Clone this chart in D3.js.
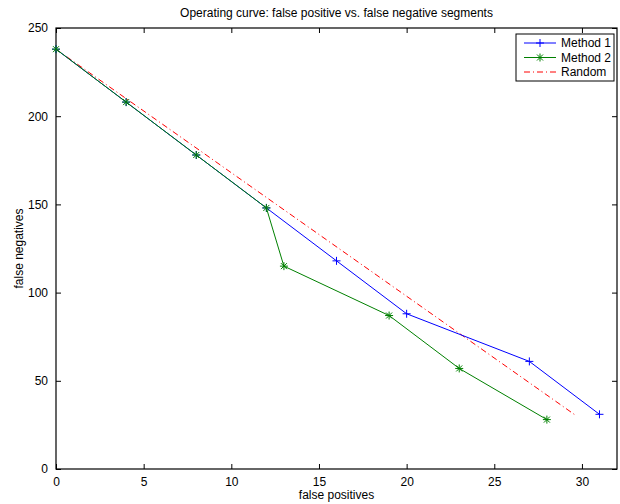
<!DOCTYPE html>
<html>
<head>
<meta charset="utf-8">
<script src="https://cdn.jsdelivr.net/npm/d3@7"></script>
<style>
  body { margin: 0; background: #fff; }
  svg text { font-family: 'Liberation Sans', Arial, sans-serif; }
</style>
</head>
<body>
<div id="chart"></div>
<script>
// data
var method1X = [0, 4, 8, 12, 16, 20, 27, 31]
var method1Y = [238, 208, 178, 148, 118, 88, 61, 31]
var method2X = [0, 4, 8, 12, 13, 19, 23, 28]
var method2Y = [238, 208, 178, 148, 115, 87, 57, 28]
var randomX = [0, 29.7]
var randomY = [238, 30]
var xTicks = [0, 5, 10, 15, 20, 25, 30]
var yTicks = [0, 50, 100, 150, 200, 250]

var margin = { top: 28, left: 56, right: 3, bottom: 35 }
var width = 620 - margin.left - margin.right
var height = 504 - margin.top - margin.bottom

var svg = d3.select('#chart')
  .append('svg')
  .attr('width', 620)
  .attr('height', 504)

var g = svg.append('g')
  .attr('transform', 'translate(' + margin.left + ',' + margin.top + ')')

var x = d3.scaleLinear().domain([0, 32]).range([0, width])
var y = d3.scaleLinear().domain([0, 250]).range([height, 0])

// ticks inside on all four sides, labels only bottom/left
function tickStyle(sel) {
  sel.select('.domain').remove()
  sel.selectAll('line').attr('stroke', '#000')
  sel.selectAll('text').attr('font-size', 12).attr('fill', '#000')
}

g.append('g')
  .attr('transform', 'translate(0,' + height + ')')
  .call(d3.axisBottom(x).tickValues(xTicks).tickSize(-5).tickPadding(8))
  .call(tickStyle)

g.append('g')
  .call(d3.axisTop(x).tickValues(xTicks).tickSize(-5).tickFormat(''))
  .call(tickStyle)

g.append('g')
  .call(d3.axisLeft(y).tickValues(yTicks).tickSize(-5).tickPadding(8))
  .call(tickStyle)

g.append('g')
  .attr('transform', 'translate(' + width + ',0)')
  .call(d3.axisRight(y).tickValues(yTicks).tickSize(-5).tickFormat(''))
  .call(tickStyle)

g.append('rect')
  .attr('width', width)
  .attr('height', height)
  .attr('fill', 'none')
  .attr('stroke', '#000')
  .attr('stroke-width', 1.2)

var line = d3.line()
  .x(d => x(d[0]))
  .y(d => y(d[1]))

var m1 = d3.zip(method1X, method1Y)
var m2 = d3.zip(method2X, method2Y)
var rnd = d3.zip(randomX, randomY)

g.append('path')
  .datum(rnd)
  .attr('d', line)
  .attr('fill', 'none')
  .attr('stroke', '#ff0000')
  .attr('stroke-dasharray', '6,3,1,3')

g.append('path')
  .datum(m1)
  .attr('d', line)
  .attr('fill', 'none')
  .attr('stroke', '#0000ff')

g.append('path')
  .datum(m2)
  .attr('d', line)
  .attr('fill', 'none')
  .attr('stroke', '#008000')

var plus = 'M-4,0H4M0,-4V4'
var star = 'M-4,0H4M0,-4V4M-3,-3L3,3M-3,3L3,-3'

g.selectAll('.m1')
  .data(m1)
  .enter()
  .append('path')
  .attr('class', 'm1')
  .attr('transform', d => 'translate(' + x(d[0]) + ',' + y(d[1]) + ')')
  .attr('d', plus)
  .attr('stroke', '#0000ff')

g.selectAll('.m2')
  .data(m2)
  .enter()
  .append('path')
  .attr('class', 'm2')
  .attr('transform', d => 'translate(' + x(d[0]) + ',' + y(d[1]) + ')')
  .attr('d', star)
  .attr('stroke', '#008000')

// title and axis labels
svg.append('text')
  .attr('x', margin.left + width / 2)
  .attr('y', 17)
  .attr('text-anchor', 'middle')
  .attr('font-size', 12)
  .text('Operating curve: false positive vs. false negative segments')

svg.append('text')
  .attr('x', margin.left + width / 2)
  .attr('y', 499)
  .attr('text-anchor', 'middle')
  .attr('font-size', 12)
  .text('false positives')

svg.append('text')
  .attr('transform', 'translate(23,' + (margin.top + height / 2) + ') rotate(-90)')
  .attr('text-anchor', 'middle')
  .attr('font-size', 12)
  .text('false negatives')

// legend
var legendItems = [
  { name: 'Method 1', color: '#0000ff', dash: null, marker: plus },
  { name: 'Method 2', color: '#008000', dash: null, marker: star },
  { name: 'Random', color: '#ff0000', dash: '6,3,1,3', marker: null }
]

var legend = svg.append('g').attr('transform', 'translate(516,34)')

legend.append('rect')
  .attr('width', 98)
  .attr('height', 47)
  .attr('fill', '#fff')
  .attr('stroke', '#000')

legendItems.forEach(function(item, i) {
  var ly = 9 + i * 14.5
  legend.append('line')
    .attr('x1', 8)
    .attr('x2', 40)
    .attr('y1', ly)
    .attr('y2', ly)
    .attr('stroke', item.color)
    .attr('stroke-dasharray', item.dash)
  if (item.marker) {
    legend.append('path')
      .attr('transform', 'translate(24,' + ly + ')')
      .attr('d', item.marker)
      .attr('stroke', item.color)
  }
  legend.append('text')
    .attr('x', 45)
    .attr('y', ly + 4)
    .attr('font-size', 12)
    .text(item.name)
})
</script>
</body>
</html>
